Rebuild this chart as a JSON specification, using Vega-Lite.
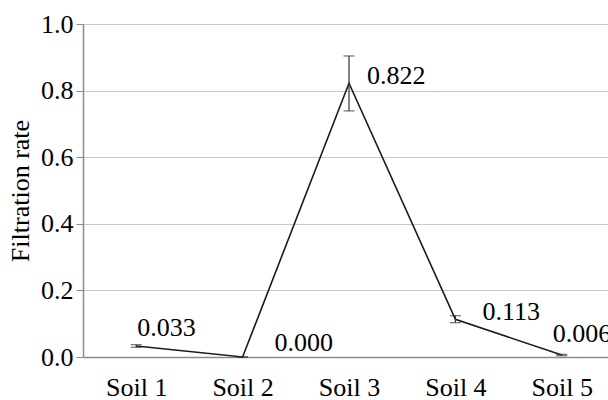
{
  "$schema": "https://vega.github.io/schema/vega-lite/v6.json",
  "width": 532,
  "height": 333,
  "autosize": {"type": "none"},
  "padding": {"left": 83, "top": 24, "right": -7, "bottom": 43},
  "background": "white",
  "config": {
    "font": "Liberation Serif",
    "view": {"stroke": null},
    "text": {"font": "Liberation Serif"},
    "axis": {"labelFont": "Liberation Serif", "titleFont": "Liberation Serif", "labelColor": "black", "titleColor": "black", "titleFontWeight": "normal"}
  },
  "data": {
    "values": [
      {"soil": "Soil 1", "rate": 0.033, "lo": 0.029, "hi": 0.037},
      {"soil": "Soil 2", "rate": 0.000, "lo": 0.000, "hi": 0.000},
      {"soil": "Soil 3", "rate": 0.822, "lo": 0.739, "hi": 0.904},
      {"soil": "Soil 4", "rate": 0.113, "lo": 0.103, "hi": 0.124},
      {"soil": "Soil 5", "rate": 0.006, "lo": 0.004, "hi": 0.008}
    ]
  },
  "encoding": {
    "x": {
      "field": "soil", "type": "nominal", "sort": null,
      "scale": {"type": "point", "range": [0, 532], "padding": 0.5},
      "axis": {"title": null, "labelAngle": 0, "labelFontSize": 26, "labelOverlap": false, "ticks": false, "domainColor": "#8c8c8c", "domainWidth": 1.5, "labelPadding": 30, "labelBaseline": "middle", "grid": false}
    }
  },
  "layer": [
    {
      "mark": {"type": "line", "color": "#1a1a1a", "strokeWidth": 1.6},
      "encoding": {
        "y": {
          "field": "rate", "type": "quantitative",
          "scale": {"domain": [0, 1], "nice": false},
          "axis": {"title": "Filtration rate", "titleFontSize": 26, "titlePadding": 7, "labelFontSize": 26, "labelOverlap": false, "format": ".1f", "values": [0, 0.2, 0.4, 0.6, 0.8, 1.0], "gridColor": "#c8c8c8", "gridWidth": 1.2, "domainColor": "#8c8c8c", "domainWidth": 1.5, "tickColor": "#8c8c8c", "tickSize": 7, "labelPadding": 3}
        }
      }
    },
    {
      "mark": {"type": "rule", "color": "#333333", "strokeWidth": 1.2},
      "encoding": {"y": {"field": "lo", "type": "quantitative"}, "y2": {"field": "hi"}}
    },
    {
      "mark": {"type": "tick", "color": "#333333", "thickness": 1.2, "size": 11, "orient": "horizontal"},
      "encoding": {"y": {"field": "lo", "type": "quantitative"}}
    },
    {
      "mark": {"type": "tick", "color": "#333333", "thickness": 1.2, "size": 11, "orient": "horizontal"},
      "encoding": {"y": {"field": "hi", "type": "quantitative"}}
    },
    {
      "transform": [{"filter": "datum.soil === 'Soil 1'"}],
      "mark": {"type": "text", "align": "left", "baseline": "middle", "fontSize": 26, "dx": 1, "dy": -18, "color": "black"},
      "encoding": {"y": {"field": "rate", "type": "quantitative"}, "text": {"field": "rate", "type": "quantitative", "format": ".3f"}}
    },
    {
      "transform": [{"filter": "datum.soil === 'Soil 2'"}],
      "mark": {"type": "text", "align": "left", "baseline": "middle", "fontSize": 26, "dx": 32, "dy": -14, "color": "black"},
      "encoding": {"y": {"field": "rate", "type": "quantitative"}, "text": {"field": "rate", "type": "quantitative", "format": ".3f"}}
    },
    {
      "transform": [{"filter": "datum.soil === 'Soil 3'"}],
      "mark": {"type": "text", "align": "left", "baseline": "middle", "fontSize": 26, "dx": 18, "dy": -7, "color": "black"},
      "encoding": {"y": {"field": "rate", "type": "quantitative"}, "text": {"field": "rate", "type": "quantitative", "format": ".3f"}}
    },
    {
      "transform": [{"filter": "datum.soil === 'Soil 4'"}],
      "mark": {"type": "text", "align": "left", "baseline": "middle", "fontSize": 26, "dx": 27, "dy": -7, "color": "black"},
      "encoding": {"y": {"field": "rate", "type": "quantitative"}, "text": {"field": "rate", "type": "quantitative", "format": ".3f"}}
    },
    {
      "transform": [{"filter": "datum.soil === 'Soil 5'"}],
      "mark": {"type": "text", "align": "left", "baseline": "middle", "fontSize": 26, "dx": -9, "dy": -21, "color": "black"},
      "encoding": {"y": {"field": "rate", "type": "quantitative"}, "text": {"field": "rate", "type": "quantitative", "format": ".3f"}}
    }
  ]
}
